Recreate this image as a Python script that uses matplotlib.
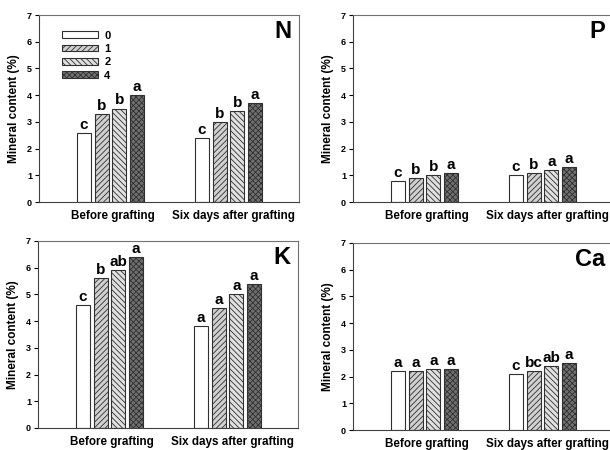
import numpy as np
import matplotlib
matplotlib.use("Agg")
import matplotlib.pyplot as plt

plt.rcParams['font.family'] = ['Liberation Sans', 'DejaVu Sans']
plt.rcParams['font.weight'] = 'bold'
plt.rcParams['hatch.linewidth'] = 0.6

groups = ["Before grafting", "Six days after grafting"]
levels = ["0", "1", "2", "4"]

# values: rows = groups, columns = levels
N_vals = [[2.6, 3.3, 3.5, 4.0], [2.4, 3.0, 3.4, 3.7]]
N_lett = [["c", "b", "b", "a"], ["c", "b", "b", "a"]]
P_vals = [[0.8, 0.9, 1.0, 1.1], [1.0, 1.1, 1.2, 1.3]]
P_lett = [["c", "b", "b", "a"], ["c", "b", "a", "a"]]
K_vals = [[4.6, 5.6, 5.9, 6.4], [3.8, 4.5, 5.0, 5.4]]
K_lett = [["c", "b", "ab", "a"], ["a", "a", "a", "a"]]
Ca_vals = [[2.2, 2.2, 2.3, 2.3], [2.1, 2.2, 2.4, 2.5]]
Ca_lett = [["a", "a", "a", "a"], ["c", "bc", "ab", "a"]]

hatches = ["", "//////", "\\\\\\\\\\\\", "xxxxxx"]
faces = ["white", "#d0d0d0", "#e0e0e0", "#707070"]

fig = plt.figure(figsize=(6.1, 4.5), dpi=100)

panels = [
    ("N", N_vals, N_lett, [0.064, 0.551, 0.426, 0.4156], True),
    ("P", P_vals, P_lett, [0.5787, 0.551, 0.426, 0.4156], False),
    ("K", K_vals, K_lett, [0.0623, 0.0489, 0.426, 0.4156], False),
    ("Ca", Ca_vals, Ca_lett, [0.5787, 0.0444, 0.426, 0.4156], False),
]

width = 0.119
pitch = 0.15
for name, vals, lett, rect, show_leg in panels:
    ax = fig.add_axes(rect)
    vals = np.array(vals)
    for j in range(len(levels)):
        xs = np.arange(1, len(groups) + 1) + (j - 1.5) * pitch
        ax.bar(xs, vals[:, j], width, facecolor=faces[j], edgecolor="#303030",
               hatch=hatches[j], linewidth=0.8, label=levels[j])
        for i in range(len(groups)):
            ax.text(xs[i], vals[i, j] + 0.04, lett[i][j], ha="center", va="bottom",
                    fontsize=11, fontweight="bold")
    ax.set_xlim(0.394, 2.597)
    ax.set_ylim(0, 7)
    ax.set_yticks(range(0, 8))
    ax.tick_params(axis="y", labelsize=6.5, length=3, width=0.8, pad=2)
    ax.set_xticks([1.02, 2.04])
    ax.set_xticklabels(groups, fontsize=8.4, fontweight="bold")
    ax.tick_params(axis="x", length=0, pad=6)
    ax.set_ylabel("Mineral content (%)", fontsize=8.5, fontweight="bold", labelpad=5)
    for s in ax.spines.values():
        s.set_color("#707070")
        s.set_linewidth(0.8)
    ax.spines["left"].set_color("#404040")
    ax.spines["bottom"].set_color("#404040")
    ax.text(0.97, 0.91, name, transform=ax.transAxes, ha="right", va="center",
            fontsize=17, fontweight="bold")
    if show_leg:
        ax.legend(loc="upper left", bbox_to_anchor=(0.05, 0.97), frameon=False,
                  handlelength=3.2, handleheight=0.55, labelspacing=0.3,
                  handletextpad=0.6, prop={"weight": "bold", "size": 8})

fig.savefig("out.png", dpi=100)
